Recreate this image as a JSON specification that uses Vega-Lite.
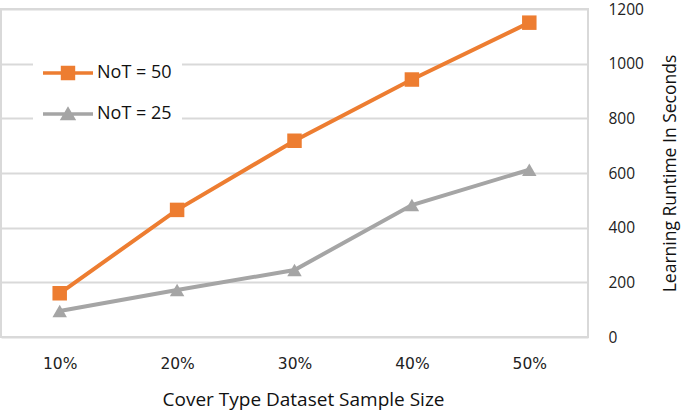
{
  "$schema": "https://vega.github.io/schema/vega-lite/v6.json",
  "width": 587,
  "height": 328,
  "autosize": "none",
  "padding": {"left": 1, "top": 9, "right": 97, "bottom": 79},
  "background": "white",
  "config": {
    "view": {"stroke": "#d9d9d9", "strokeWidth": 2},
    "font": "Open Sans"
  },
  "data": {
    "values": [
      {"size": "10%", "series": "NoT = 50", "runtime": 160},
      {"size": "20%", "series": "NoT = 50", "runtime": 465},
      {"size": "30%", "series": "NoT = 50", "runtime": 718},
      {"size": "40%", "series": "NoT = 50", "runtime": 942},
      {"size": "50%", "series": "NoT = 50", "runtime": 1150},
      {"size": "10%", "series": "NoT = 25", "runtime": 95},
      {"size": "20%", "series": "NoT = 25", "runtime": 172},
      {"size": "30%", "series": "NoT = 25", "runtime": 245},
      {"size": "40%", "series": "NoT = 25", "runtime": 483},
      {"size": "50%", "series": "NoT = 25", "runtime": 612}
    ]
  },
  "encoding": {
    "x": {
      "field": "size", "type": "ordinal",
      "scale": {"type": "point", "padding": 0.5},
      "axis": {
        "title": "Cover Type Dataset Sample Size",
        "labelAngle": 0, "labelFont": "DejaVu Sans", "labelFontSize": 15.5, "labelColor": "#222",
        "labelPadding": 19, "ticks": false, "domain": false, "grid": false,
        "titleFont": "Open Sans", "titleFontSize": 19, "titleFontWeight": "normal", "titleColor": "#111", "titlePadding": 19,
        "titleX": 302
      }
    },
    "y": {
      "field": "runtime", "type": "quantitative",
      "scale": {"domain": [0, 1200]},
      "axis": {
        "orient": "right", "title": "Learning Runtime In Seconds",
        "values": [0, 200, 400, 600, 800, 1000, 1200], "format": "d",
        "labelFontSize": 15.5, "labelColor": "#222", "labelPadding": 20, "labelAlign": "left",
        "ticks": false, "domain": false,
        "grid": true, "gridColor": "#d9d9d9", "gridWidth": 2,
        "titleFontSize": 17.5, "titleFontWeight": "normal", "titleColor": "#111",
        "titleAngle": 270, "titlePadding": 36
      }
    },
    "color": {
      "field": "series", "type": "nominal",
      "scale": {"domain": ["NoT = 50", "NoT = 25"], "range": ["#ED7D31", "#A5A5A5"]},
      "legend": {
        "title": null, "orient": "none", "legendX": 32, "legendY": 44,
        "fillColor": "white", "padding": 10,
        "symbolSize": 400, "symbolOffset": 15, "labelOffset": 19, "rowPadding": 22,
        "symbolOpacity": 1, "symbolStrokeWidth": 0,
        "labelFontSize": 18, "labelColor": "#111"
      }
    }
  },
  "layer": [
    {"mark": {"type": "line", "strokeWidth": 4}},
    {
      "transform": [{"filter": "datum.series === 'NoT = 50'"}],
      "mark": {"type": "point", "filled": true, "opacity": 1, "shape": "square", "size": 210}
    },
    {
      "transform": [{"filter": "datum.series === 'NoT = 25'"}],
      "mark": {"type": "point", "filled": true, "opacity": 1, "shape": "triangle-up", "size": 210}
    },
    {
      "mark": {"type": "point", "filled": true, "opacity": 0},
      "encoding": {
        "shape": {
          "field": "series", "type": "nominal",
          "scale": {
            "domain": ["NoT = 50", "NoT = 25"],
            "range": [
              "M-2.5,-0.18H2.5V0.18H-2.5Z M-0.72,-0.72H0.72V0.72H-0.72Z",
              "M-2.5,-0.18H2.5V0.18H-2.5Z M0,-0.78L0.82,0.62H-0.82Z"
            ]
          },
          "legend": {
            "title": null, "orient": "none", "legendX": 32, "legendY": 44,
            "fillColor": "white", "padding": 10,
            "symbolSize": 400, "symbolOffset": 15, "labelOffset": 19, "rowPadding": 22,
            "symbolOpacity": 1, "symbolStrokeWidth": 0,
            "labelFontSize": 18, "labelColor": "#111"
          }
        }
      }
    }
  ]
}
